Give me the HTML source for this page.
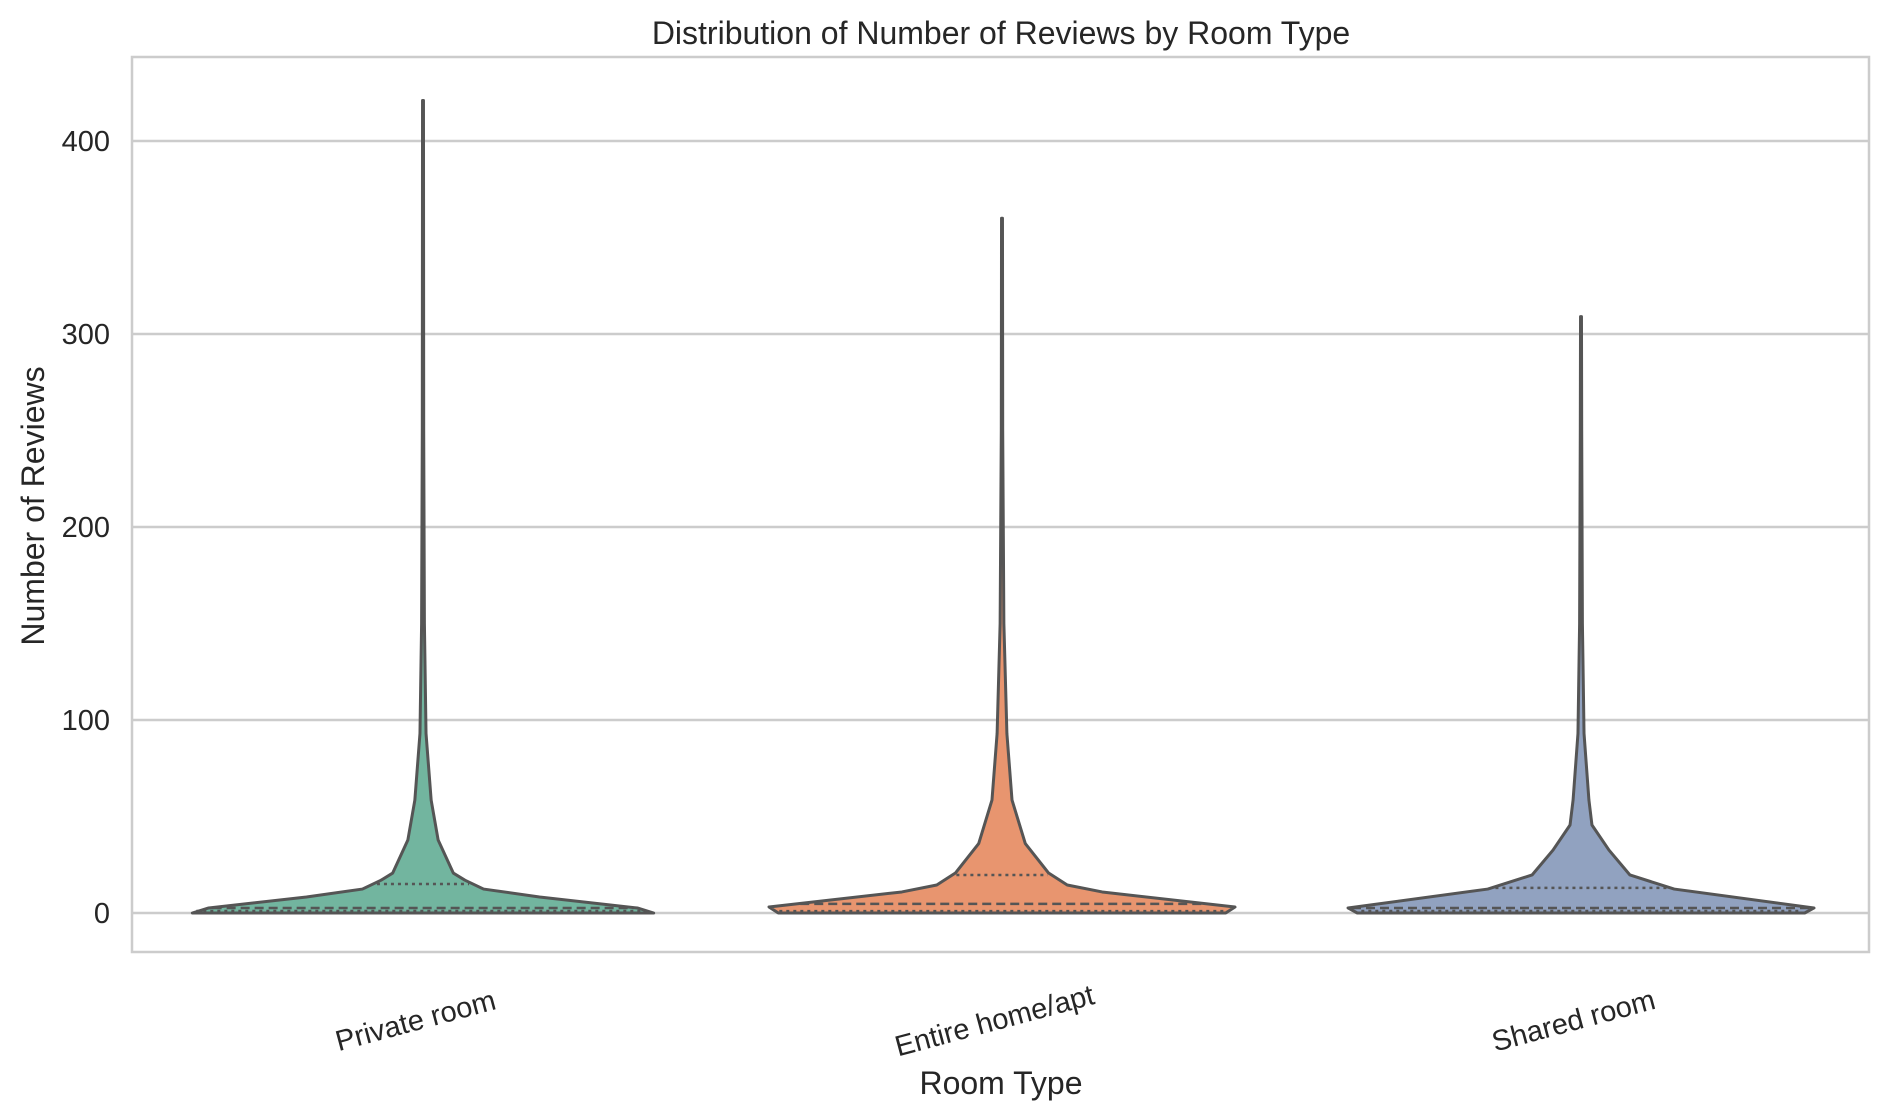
<!DOCTYPE html>
<html><head><meta charset="utf-8"><style>
html,body{margin:0;padding:0;background:#fff;}
svg{display:block;font-family:"Liberation Sans",Arial,sans-serif;}
</style></head><body>
<svg id="chart" width="1888" height="1119" viewBox="0 0 1888 1119" xmlns="http://www.w3.org/2000/svg">
<rect x="0" y="0" width="1888" height="1119" fill="#fff"/>
<g id="grid"></g>
<g id="violins"></g>
<rect x="132" y="57" width="1737" height="895" fill="none" stroke="#cccccc" stroke-width="2.5"/>
<g id="yticks"></g>
<g id="xticks"></g>
<text x="1001" y="44" text-anchor="middle" font-size="32" fill="#262626">Distribution of Number of Reviews by Room Type</text>
<text x="1001" y="1094" text-anchor="middle" font-size="32" fill="#262626">Room Type</text>
<text transform="translate(44,506) rotate(-90)" text-anchor="middle" font-size="32" fill="#262626">Number of Reviews</text>
</svg>
<script>
const categories = ["Private room", "Entire home/apt", "Shared room"];
const colors = ["#72b59f", "#e8956f", "#91a2c0"];
const yTicks = [0, 100, 200, 300, 400];
// density profile: values (reviews) and half-widths (relative density, 0..1)
const privVals = [0, 2.6, 8.3, 12.4, 17, 20.7, 37.8, 58.5, 93, 150, 250, 421];
const privDens = [0.99, 0.92, 0.50, 0.26, 0.18, 0.13, 0.065, 0.035, 0.013, 0.006, 0.003, 0.002];
const entVals = [0, 3.1, 10.9, 14.5, 20.7, 36, 58.5, 93, 150, 250, 360];
const entDens = [0.96, 1.0, 0.43, 0.28, 0.20, 0.10, 0.043, 0.021, 0.008, 0.003, 0.002];
const shVals = [0, 2.6, 12.4, 19.7, 32.6, 45.6, 58.5, 93, 150, 250, 309];
const shDens = [0.96, 1.0, 0.40, 0.21, 0.12, 0.047, 0.034, 0.013, 0.006, 0.003, 0.002];
const medians = [2.6, 4.7, 2.6];
const q1 = [0, 1, 0];
const q3 = [15, 19.7, 13];
const series = [[privVals, privDens], [entVals, entDens], [shVals, shDens]];

const NS = "http://www.w3.org/2000/svg";
const y0 = 913, pxPer = 1.93;
function yScale(v){ return y0 - v * pxPer; }
const x0 = 423, band = 579;
function xScale(i){ return x0 + i * band; }
const maxHW = 233;
function mk(tag, attrs, parent){ const e = document.createElementNS(NS, tag); for (const k in attrs) e.setAttribute(k, attrs[k]); parent.appendChild(e); return e; }
function hwAt(vals, dens, v){
  for (let k = 0; k < vals.length - 1; k++) {
    if (v >= vals[k] && v <= vals[k+1]) { const t = (v - vals[k]) / (vals[k+1] - vals[k]); return (dens[k] + t * (dens[k+1] - dens[k])) * maxHW; }
  }
  return dens[dens.length-1] * maxHW;
}
const grid = document.getElementById('grid');
const yt = document.getElementById('yticks');
yTicks.forEach(t => {
  const l = mk('line', {x1:132, x2:1869, y1:yScale(t), y2:yScale(t), stroke:'#cccccc', 'stroke-width':2.5}, grid);
  
  
  const tx = mk('text', {x:110, y:yScale(t) + 10, 'text-anchor':'end', 'font-size':29, fill:'#262626'}, yt);
  tx.textContent = t;
  
  
});
const vg = document.getElementById('violins');
series.forEach((s, i) => {
  const vals = s[0], dens = s[1], cx = xScale(i);
  const g = mk('g', {}, vg);
  
  
  let right = [], left = [];
  vals.forEach((v, k) => { const hw = dens[k] * maxHW; right.push((cx + hw) + ',' + yScale(v)); left.unshift((cx - hw) + ',' + yScale(v)); });
  const p = mk('polygon', {points: right.concat(left).join(' '), fill: colors[i], stroke:'#555555', 'stroke-width':3, 'stroke-linejoin':'round'}, g);
  
  
  [[q1[i], '3,4'], [medians[i], '9,5'], [q3[i], '3,4']].forEach((q, j) => {
    const hw = hwAt(vals, dens, q[0]) - 4;
    const ln = mk('line', {x1:cx - hw, x2:cx + hw, y1:yScale(q[0]) - (q[0] === 0 ? 2 : 0), y2:yScale(q[0]) - (q[0] === 0 ? 2 : 0), stroke:'#555555', 'stroke-width':2.5, 'stroke-dasharray':q[1]}, g);
    
    
  });
});
const xt = document.getElementById('xticks');
categories.forEach((c, i) => {
  const tx = mk('text', {transform:'translate(' + (xScale(i) - 5) + ',1030) rotate(-15)', 'text-anchor':'middle', 'font-size':29, fill:'#262626'}, xt);
  tx.textContent = c;
  
  
});
</script>
</body></html>
